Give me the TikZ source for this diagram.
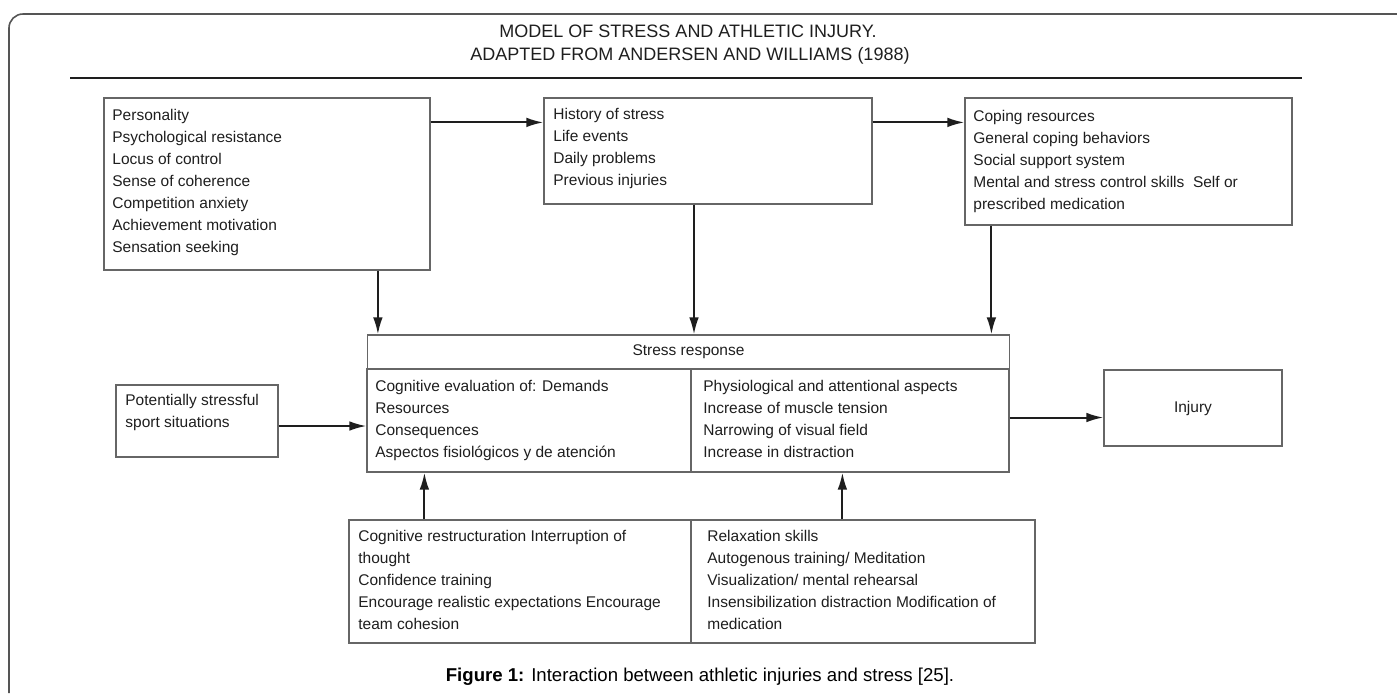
\documentclass[tikz,border=0pt]{standalone}
\usepackage{fontspec}
\setmainfont{Liberation Sans}
\usetikzlibrary{calc,arrows.meta}
\definecolor{boxline}{HTML}{666666}
\definecolor{ink}{HTML}{1E1E1E}
\definecolor{framec}{HTML}{555555}
\begin{document}
\begin{tikzpicture}[x=0.5pt,y=-0.5pt,
  box/.style={draw=boxline, line width=0.6pt, inner sep=0, fill=none},
  txt/.style={anchor=north west, inner sep=0, align=left, text=ink,
    font=\fontsize{7.75}{11}\selectfont},
  ctxt/.style={inner sep=0, align=center, text=ink, font=\fontsize{7.75}{11}\selectfont},
  ttl/.style={inner sep=0, text=ink, font=\fontsize{9}{11}\selectfont},
  arr/.style={draw=ink, line width=1pt, -{Latex[length=8.5pt,width=4.8pt]}}]
\useasboundingbox (0,0) rectangle (1397,693);
% frame
\draw[framec, line width=0.8pt, rounded corners=7pt] (9,693) -- (9,14) -- (1397,14);
% title
\node[ttl] (T1) at (688,31) {MODEL OF STRESS AND ATHLETIC INJURY.};
\node[ttl] (T2) at (690,56) {ADAPTED FROM ANDERSEN AND WILLIAMS (1988)};
\draw[ink, line width=1.3pt] (70,78) -- (1302,78);
% boxes
\node[box, minimum width=163pt, minimum height=86pt] (A) at (267,184) {};
\node[box, minimum width=164pt, minimum height=53pt] (B) at (708,151) {};
\node[box, minimum width=163.5pt, minimum height=63.5pt] (C) at (1128.5,161.5) {};
\node[box, minimum width=321pt, minimum height=17pt] (SRH) at (688.5,352) {};
\node[box, minimum width=162pt, minimum height=51.5pt] (SRL) at (529,420.5) {};
\node[box, minimum width=159pt, minimum height=51.5pt] (SRR) at (850,420.5) {};
\node[box, minimum width=81pt, minimum height=36pt] (P) at (197,421) {};
\node[box, minimum width=89pt, minimum height=38pt] (I) at (1193,408) {};
\node[box, minimum width=171pt, minimum height=61.5pt] (BL) at (520,581.5) {};
\node[box, minimum width=172pt, minimum height=61.5pt] (BR) at (863,581.5) {};
% texts
\node[txt] (At) at (112,105) {\strut Personality\\Psychological resistance\\Locus of control\\Sense of coherence\\Competition anxiety\\Achievement motivation\\Sensation seeking};
\node[txt] (Bt) at (553,104) {\strut History of stress\\Life events\\Daily problems\\Previous injuries};
\node[txt] (Ct) at (973,106) {\strut Coping resources\\General coping behaviors\\Social support system\\Mental and stress control skills\ \ Self or\\prescribed medication};
\node[ctxt] (SRHt) at (SRH.center) {Stress response};
\node[txt] (SRLt) at (375,376) {\strut Cognitive evaluation of: Demands\\Resources\\Consequences\\Aspectos fisiológicos y de atención};
\node[txt] (SRRt) at (703,376) {\strut Physiological and attentional aspects\\Increase of muscle tension\\Narrowing of visual field\\Increase in distraction};
\node[txt] (Pt) at (125,390) {\strut Potentially stressful\\sport situations};
\node[ctxt] (It) at (I.center) {Injury};
\node[txt] (BLt) at (358,526) {\strut Cognitive restructuration Interruption of\\thought\\Confidence training\\Encourage realistic expectations Encourage\\team cohesion};
\node[txt] (BRt) at (707,526) {\strut Relaxation skills\\Autogenous training/ Meditation\\Visualization/ mental rehearsal\\Insensibilization distraction Modification of\\medication};
% caption
\node[inner sep=0, text=black, font=\fontsize{9.3}{11}\selectfont] (cap) at (700,677) {\textbf{Figure 1:} Interaction between athletic injuries and stress [25].};
% connector anchor points
\coordinate (a1) at ($(A.north east)+(0,25)$);
\coordinate (b1) at ($(B.north east)+(0,25)$);
\coordinate (dA) at ($(SRH.north west)+(11,0)$);
\coordinate (dB) at ($(B.south)+(-14,0)$);
\coordinate (dC) at ($(C.south west)+(27,0)$);
\coordinate (pP) at ($(P.east)+(0,5)$);
\coordinate (pS) at ($(SRR.east)+(0,-3)$);
\coordinate (uL) at ($(BL.north west)+(76,0)$);
\coordinate (uR) at ($(BR.north west)+(152,0)$);
% connectors
\draw[arr] (a1) -- (a1 -| B.west);
\draw[arr] (b1) -- (b1 -| C.west);
\draw[arr] (dA |- A.south) -- (dA);
\draw[arr] (dB) -- (dB |- SRH.north);
\draw[arr] (dC) -- (dC |- SRH.north);
\draw[arr] (pP) -- (pP -| SRL.west);
\draw[arr] (pS) -- (pS -| I.west);
\draw[arr] (uL) -- (uL |- SRL.south);
\draw[arr] (uR) -- (uR |- SRR.south);
\end{tikzpicture}
\end{document}
